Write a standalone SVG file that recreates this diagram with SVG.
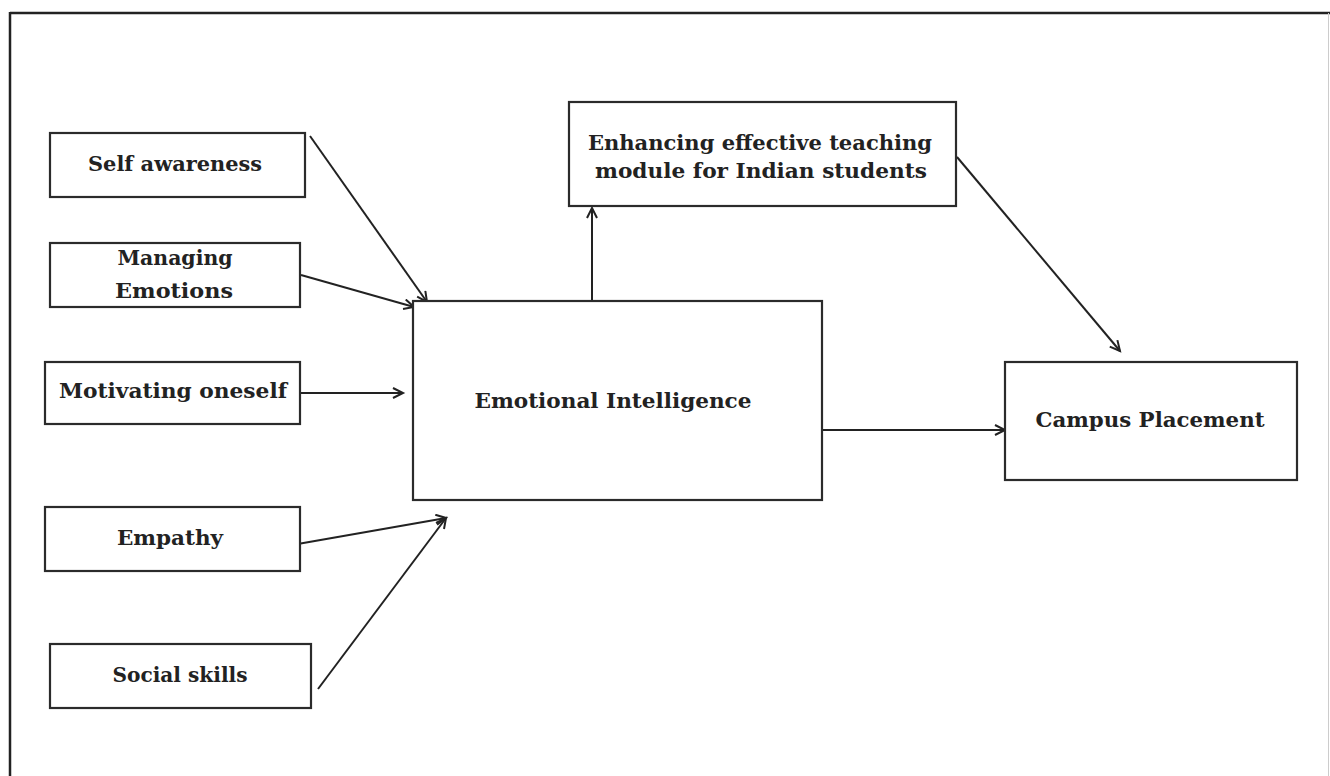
<svg xmlns="http://www.w3.org/2000/svg" width="1330" height="776" viewBox="0 0 1330 776">
<style>
.box{fill:#fff;stroke:#2b2b2b;stroke-width:2.2}
.lbl{font-family:"DejaVu Serif","Liberation Serif",serif;font-weight:bold;font-size:21px;fill:#222}
.con{stroke:#222;stroke-width:2;fill:none;marker-end:url(#ah)}
</style>
<defs>
<marker id="ah" markerUnits="userSpaceOnUse" markerWidth="14" markerHeight="14" refX="11" refY="6" orient="auto">
<path d="M1,1 L11,6 L1,11" fill="none" stroke="#222" stroke-width="2"/>
</marker>
</defs>
<rect x="0" y="0" width="1330" height="776" fill="#fff"/>
<g id="frame">
<line x1="10" y1="13" x2="1330" y2="13" stroke="#222" stroke-width="2.5"/>
<line x1="10" y1="12" x2="10" y2="776" stroke="#222" stroke-width="2.5"/>
<line x1="1328.5" y1="13" x2="1328.5" y2="776" stroke="#ccc" stroke-width="1"/>
</g>
<g id="connectors">
<line class="con" x1="310" y1="136" x2="427" y2="302"/>
<line class="con" x1="301" y1="275" x2="414" y2="307"/>
<line class="con" x1="300" y1="393" x2="403" y2="393"/>
<line class="con" x1="292" y1="545" x2="446" y2="518"/>
<line class="con" x1="318" y1="689" x2="446" y2="518"/>
<line class="con" x1="592" y1="308" x2="592" y2="208"/>
<line class="con" x1="822" y1="430" x2="1005" y2="430"/>
<line class="con" x1="957" y1="157" x2="1120" y2="351"/>
</g>
<g id="self-awareness">
<rect class="box" x="50" y="133" width="255" height="64"/>
<text class="lbl" x="175" y="171" text-anchor="middle" textLength="174" lengthAdjust="spacingAndGlyphs">Self awareness</text>
</g>
<g id="managing-emotions">
<rect class="box" x="50" y="243" width="250" height="64"/>
<text class="lbl" x="175" y="265" text-anchor="middle" textLength="115" lengthAdjust="spacingAndGlyphs">Managing</text>
<text class="lbl" x="174" y="298" text-anchor="middle" textLength="118" lengthAdjust="spacingAndGlyphs">Emotions</text>
</g>
<g id="motivating-oneself">
<rect class="box" x="45" y="362" width="255" height="62"/>
<text class="lbl" x="173" y="398" text-anchor="middle" textLength="228" lengthAdjust="spacingAndGlyphs">Motivating oneself</text>
</g>
<g id="empathy">
<rect class="box" x="45" y="507" width="255" height="64"/>
<text class="lbl" x="170" y="545" text-anchor="middle" textLength="106" lengthAdjust="spacingAndGlyphs">Empathy</text>
</g>
<g id="social-skills">
<rect class="box" x="50" y="644" width="261" height="64"/>
<text class="lbl" x="180" y="682" text-anchor="middle" textLength="135" lengthAdjust="spacingAndGlyphs">Social skills</text>
</g>
<g id="emotional-intelligence">
<rect class="box" x="413" y="301" width="409" height="199"/>
<text class="lbl" x="613" y="408" text-anchor="middle" textLength="277" lengthAdjust="spacingAndGlyphs">Emotional Intelligence</text>
</g>
<g id="enhancing-module">
<rect class="box" x="569" y="102" width="387" height="104"/>
<text class="lbl" x="760" y="150" text-anchor="middle" textLength="344" lengthAdjust="spacingAndGlyphs">Enhancing effective teaching</text>
<text class="lbl" x="761" y="178" text-anchor="middle" textLength="332" lengthAdjust="spacingAndGlyphs">module for Indian students</text>
</g>
<g id="campus-placement">
<rect class="box" x="1005" y="362" width="292" height="118"/>
<text class="lbl" x="1150" y="427" text-anchor="middle" textLength="229" lengthAdjust="spacingAndGlyphs">Campus Placement</text>
</g>
</svg>
